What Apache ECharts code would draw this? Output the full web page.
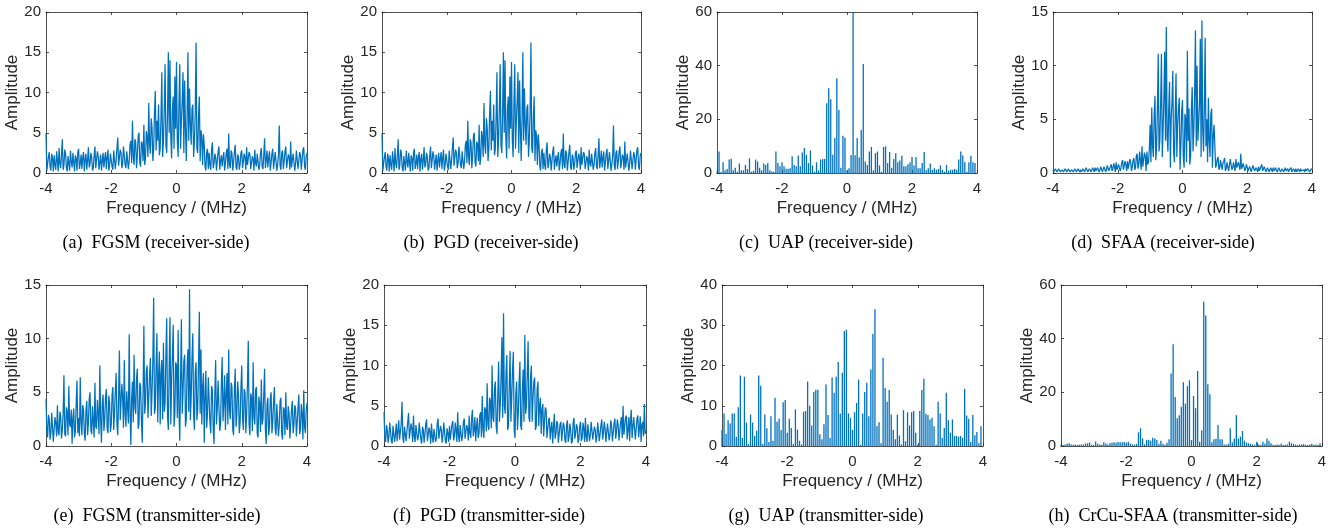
<!DOCTYPE html>
<html>
<head>
<meta charset="utf-8">
<script src="https://cdn.jsdelivr.net/npm/echarts@6/dist/echarts.min.js"></script>
<style>
  html, body { margin: 0; padding: 0; background: #ffffff; }
  #chart { width: 1338px; height: 529px; }
</style>
</head>
<body>
<div id="chart"></div>
<script>
// Frequency axis: -4 … 4 MHz
const xTicks = [-4, -2, 0, 2, 4];
const lineStart = -4, lineStep = 0.025;   // dense spectra, 321 samples (one row = 0.5 MHz)
const binStart = -4, binStep = 0.0625;    // line-spectrum (UAP / CrCu-SFAA) bins, 128 bins

// (a) FGSM, receiver-side
const fgsmRx = [
  4.9, 0.3, 0.5, 2.0, 2.6, 0.8, 0.3, 2.4, 1.8, 0.2, 2.2, 1.0, 0.4, 2.7, 1.5, 0.2, 3.1, 1.2, 0.6, 2.3,
  4.2, 0.4, 1.0, 2.9, 2.4, 0.6, 0.2, 2.1, 1.9, 0.3, 2.8, 1.4, 0.7, 2.5, 1.3, 0.2, 2.2, 1.8, 0.3, 2.6,
  3.0, 0.5, 1.2, 2.3, 0.5, 1.9, 2.6, 0.2, 1.7, 2.4, 0.4, 1.6, 3.2, 0.7, 1.1, 2.5, 2.0, 0.3, 0.6, 2.2,
  3.3, 0.6, 0.8, 2.7, 2.1, 0.4, 1.4, 2.3, 0.3, 1.5, 2.5, 0.7, 1.8, 2.6, 0.5, 1.9, 2.9, 0.3, 1.0, 2.4,
  2.3, 0.8, 0.4, 2.8, 3.0, 0.5, 1.6, 3.1, 4.4, 0.9, 0.7, 2.9, 2.5, 0.6, 1.2, 3.3, 3.4, 1.0, 0.6, 2.7,
  2.8, 0.5, 1.5, 3.5, 4.0, 1.2, 6.5, 2.0, 1.0, 4.2, 3.8, 0.6, 2.2, 4.6, 5.0, 1.3, 0.8, 3.9, 3.6, 1.5,
  6.0, 1.0, 1.8, 5.2, 4.5, 2.0, 8.7, 3.5, 2.4, 6.8, 5.6, 1.5, 3.0, 7.5, 10.2, 2.8, 6.5, 4.0, 8.5, 2.2,
  3.0, 7.0, 12.5, 2.0, 4.0, 8.0, 13.5, 3.5, 2.5, 7.5, 15.0, 5.0, 14.0, 4.5, 1.8, 8.0, 9.5, 3.0, 12.0, 5.5,
  13.8, 4.0, 2.0, 8.5, 13.5, 3.0, 6.5, 9.0, 12.5, 2.5, 11.5, 5.5, 1.5, 7.0, 15.0, 4.0, 10.5, 6.0, 3.5, 8.0,
  8.5, 2.0, 4.0, 7.5, 16.2, 3.0, 2.5, 7.0, 9.5, 1.5, 5.3, 4.5, 1.0, 4.8, 3.5, 0.8, 0.3, 2.6, 3.0, 0.5,
  2.5, 1.0, 0.4, 2.9, 3.8, 0.6, 1.2, 2.4, 2.0, 0.3, 0.5, 2.7, 3.3, 0.4, 1.5, 2.2, 0.8, 1.9, 2.6, 0.3,
  1.2, 2.5, 3.0, 0.5, 4.9, 1.0, 0.6, 2.8, 2.4, 0.3, 1.4, 2.6, 3.5, 0.7, 0.4, 2.3, 2.0, 0.4, 1.1, 2.5,
  2.8, 0.6, 0.5, 2.4, 1.9, 0.4, 3.2, 1.0, 0.9, 2.6, 2.3, 0.5, 0.3, 2.1, 1.7, 0.3, 2.9, 1.2, 0.8, 2.4,
  2.2, 0.4, 1.0, 2.5, 3.1, 0.8, 0.5, 2.2, 4.3, 0.6, 1.6, 2.8, 0.7, 1.9, 2.7, 0.3, 1.3, 2.4, 3.0, 0.5,
  0.6, 2.6, 2.4, 0.3, 1.1, 2.2, 5.9, 0.9, 0.4, 2.5, 2.8, 0.5, 1.5, 2.7, 3.3, 0.6, 0.8, 2.3, 2.0, 0.4,
  3.9, 0.7, 0.5, 2.4, 2.5, 0.3, 1.2, 2.8, 3.0, 0.5, 0.6, 2.6, 2.2, 0.4, 1.6, 2.9, 3.2, 0.8, 0.4, 2.1,
  2.5
];

// (b) PGD, receiver-side (same spectrum as FGSM at the receiver)
const pgdRx = [
  4.9, 0.3, 0.5, 2.0, 2.6, 0.8, 0.3, 2.4, 1.8, 0.2, 2.2, 1.0, 0.4, 2.7, 1.5, 0.2, 3.1, 1.2, 0.6, 2.3,
  4.2, 0.4, 1.0, 2.9, 2.4, 0.6, 0.2, 2.1, 1.9, 0.3, 2.8, 1.4, 0.7, 2.5, 1.3, 0.2, 2.2, 1.8, 0.3, 2.6,
  3.0, 0.5, 1.2, 2.3, 0.5, 1.9, 2.6, 0.2, 1.7, 2.4, 0.4, 1.6, 3.2, 0.7, 1.1, 2.5, 2.0, 0.3, 0.6, 2.2,
  3.3, 0.6, 0.8, 2.7, 2.1, 0.4, 1.4, 2.3, 0.3, 1.5, 2.5, 0.7, 1.8, 2.6, 0.5, 1.9, 2.9, 0.3, 1.0, 2.4,
  2.3, 0.8, 0.4, 2.8, 3.0, 0.5, 1.6, 3.1, 4.4, 0.9, 0.7, 2.9, 2.5, 0.6, 1.2, 3.3, 3.4, 1.0, 0.6, 2.7,
  2.8, 0.5, 1.5, 3.5, 4.0, 1.2, 6.5, 2.0, 1.0, 4.2, 3.8, 0.6, 2.2, 4.6, 5.0, 1.3, 0.8, 3.9, 3.6, 1.5,
  6.0, 1.0, 1.8, 5.2, 4.5, 2.0, 8.7, 3.5, 2.4, 6.8, 5.6, 1.5, 3.0, 7.5, 10.2, 2.8, 6.5, 4.0, 8.5, 2.2,
  3.0, 7.0, 12.5, 2.0, 4.0, 8.0, 13.5, 3.5, 2.5, 7.5, 15.0, 5.0, 14.0, 4.5, 1.8, 8.0, 9.5, 3.0, 12.0, 5.5,
  13.8, 4.0, 2.0, 8.5, 13.5, 3.0, 6.5, 9.0, 12.5, 2.5, 11.5, 5.5, 1.5, 7.0, 15.0, 4.0, 10.5, 6.0, 3.5, 8.0,
  8.5, 2.0, 4.0, 7.5, 16.2, 3.0, 2.5, 7.0, 9.5, 1.5, 5.3, 4.5, 1.0, 4.8, 3.5, 0.8, 0.3, 2.6, 3.0, 0.5,
  2.5, 1.0, 0.4, 2.9, 3.8, 0.6, 1.2, 2.4, 2.0, 0.3, 0.5, 2.7, 3.3, 0.4, 1.5, 2.2, 0.8, 1.9, 2.6, 0.3,
  1.2, 2.5, 3.0, 0.5, 4.9, 1.0, 0.6, 2.8, 2.4, 0.3, 1.4, 2.6, 3.5, 0.7, 0.4, 2.3, 2.0, 0.4, 1.1, 2.5,
  2.8, 0.6, 0.5, 2.4, 1.9, 0.4, 3.2, 1.0, 0.9, 2.6, 2.3, 0.5, 0.3, 2.1, 1.7, 0.3, 2.9, 1.2, 0.8, 2.4,
  2.2, 0.4, 1.0, 2.5, 3.1, 0.8, 0.5, 2.2, 4.3, 0.6, 1.6, 2.8, 0.7, 1.9, 2.7, 0.3, 1.3, 2.4, 3.0, 0.5,
  0.6, 2.6, 2.4, 0.3, 1.1, 2.2, 5.9, 0.9, 0.4, 2.5, 2.8, 0.5, 1.5, 2.7, 3.3, 0.6, 0.8, 2.3, 2.0, 0.4,
  3.9, 0.7, 0.5, 2.4, 2.5, 0.3, 1.2, 2.8, 3.0, 0.5, 0.6, 2.6, 2.2, 0.4, 1.6, 2.9, 3.2, 0.8, 0.4, 2.1,
  2.5
];

// (c) UAP, receiver-side
const uapRx = [
  0.5, 8.0, 0.4, 4.0, 1.0, 1.5, 5.0, 5.3, 1.0, 2.0,
  0.5, 3.5, 1.0, 1.0, 3.0, 1.5, 5.5, 0.5, 0.8, 5.0,
  4.3, 2.0, 1.0, 3.5, 3.0, 3.7, 1.0, 0.6, 0.5, 8.0,
  3.7, 2.5, 4.0, 2.5, 1.6, 1.6, 1.8, 6.2, 3.0, 2.5,
  6.5, 2.5, 7.6, 9.3, 6.8, 3.7, 8.4, 2.8, 0.5, 4.0,
  1.0, 5.0, 5.2, 5.2, 26.0, 31.6, 27.5, 6.8, 13.0, 35.3,
  23.5, 2.0, 13.9, 13.2, 1.0, 1.8, 6.7, 60.0, 6.6, 13.0,
  5.8, 16.0, 40.6, 4.3, 3.0, 8.0, 9.7, 1.0, 7.4, 8.0,
  2.8, 0.5, 9.7, 9.9, 3.7, 7.8, 2.0, 5.2, 7.4, 4.0,
  4.7, 6.4, 2.5, 2.5, 3.3, 4.0, 6.0, 2.8, 6.0, 1.8,
  1.8, 3.7, 7.8, 1.0, 1.8, 3.5, 1.2, 1.8, 1.2, 1.5,
  2.8, 1.2, 0.5, 3.0, 0.9, 1.2, 1.2, 1.5, 1.2, 5.0,
  8.0, 6.6, 4.0, 0.5, 4.0, 6.4, 4.0, 3.7
];

// (d) SFAA, receiver-side
const sfaaRx = [
  0.3, 0.1, 0.1, 0.4, 0.4, 0.1, 0.2, 0.4, 0.3, 0.1, 0.1, 0.3, 0.4, 0.1, 0.2, 0.4, 0.3, 0.1, 0.2, 0.4,
  0.4, 0.1, 0.1, 0.3, 0.3, 0.1, 0.2, 0.4, 0.4, 0.1, 0.1, 0.4, 0.3, 0.1, 0.3, 0.1, 0.2, 0.4, 0.4, 0.1,
  0.2, 0.5, 0.4, 0.1, 0.1, 0.4, 0.5, 0.1, 0.2, 0.5, 0.3, 0.1, 0.5, 0.2, 0.2, 0.5, 0.4, 0.1, 0.3, 0.6,
  0.6, 0.1, 0.2, 0.6, 0.5, 0.1, 0.3, 0.7, 0.7, 0.2, 0.2, 0.6, 0.8, 0.2, 0.4, 0.9, 0.6, 0.1, 1.0, 0.3,
  0.3, 0.8, 0.9, 0.2, 0.5, 1.0, 1.2, 0.3, 0.4, 1.1, 0.8, 0.2, 1.1, 0.4, 0.3, 1.3, 1.0, 0.2, 0.6, 1.2,
  1.4, 0.3, 0.5, 1.6, 1.8, 0.4, 0.8, 2.0, 1.2, 0.3, 2.5, 0.6, 0.7, 1.9, 1.6, 0.2, 2.0, 0.8, 1.0, 2.2,
  4.5, 1.0, 6.1, 2.5, 1.5, 5.5, 7.2, 1.2, 2.5, 6.0, 11.1, 2.0, 3.0, 6.5, 11.1, 1.5, 4.0, 7.0, 11.3, 3.0,
  13.6, 3.5, 2.0, 6.0, 8.5, 0.5, 5.0, 6.5, 9.5, 2.0, 1.0, 5.5, 9.3, 1.5, 4.5, 6.0, 7.0, 0.3, 2.5, 5.8,
  6.8, 1.5, 0.5, 5.5, 5.0, 1.0, 11.4, 3.0, 6.0, 0.8, 1.5, 6.0, 8.0, 2.0, 4.0, 7.5, 13.3, 2.5, 10.0, 3.0,
  3.0, 6.5, 12.5, 1.5, 14.2, 4.0, 2.0, 6.0, 12.6, 2.5, 5.0, 1.0, 7.0, 3.0, 1.5, 5.5, 6.0, 0.5, 3.5, 4.5,
  2.5, 0.5, 0.8, 1.3, 1.5, 0.3, 0.5, 1.2, 1.2, 0.3, 0.9, 1.1, 1.4, 0.2, 0.4, 1.0, 1.0, 0.2, 0.7, 1.3,
  1.2, 0.3, 0.5, 1.0, 0.9, 0.2, 1.3, 0.5, 0.4, 1.0, 1.1, 0.3, 1.8, 0.4, 0.6, 0.9, 0.9, 0.2, 0.4, 0.8,
  0.7, 0.2, 0.3, 0.6, 0.6, 0.1, 0.4, 0.7, 0.7, 0.2, 0.2, 0.5, 0.5, 0.1, 0.6, 0.2, 0.3, 0.6, 0.8, 0.2,
  0.3, 0.6, 0.5, 0.1, 0.2, 0.5, 0.6, 0.1, 0.3, 0.5, 0.4, 0.1, 0.5, 0.2, 0.2, 0.5, 0.4, 0.1, 0.3, 0.5,
  0.5, 0.1, 0.2, 0.4, 0.4, 0.1, 0.3, 0.5, 0.2, 0.1, 0.4, 0.1, 0.3, 0.4, 0.5, 0.1, 0.2, 0.4, 0.3, 0.1,
  0.4, 0.1, 0.2, 0.4, 0.3, 0.1, 0.4, 0.2, 0.1, 0.3, 0.3, 0.1, 0.4, 0.2, 0.2, 0.4, 0.3, 0.1, 0.2, 0.4,
  0.3
];

// (e) FGSM, transmitter-side
const fgsmTx = [
  4.4, 1.5, 0.8, 2.9, 2.5, 0.6, 1.2, 3.1, 3.0, 0.4, 0.5, 2.7, 2.1, 0.9, 3.8, 1.3, 1.0, 3.2, 2.8, 0.7,
  1.5, 3.0, 6.6, 1.1, 0.9, 3.6, 3.2, 1.0, 5.6, 2.0, 1.8, 3.4, 0.2, 2.6, 3.5, 0.8, 1.4, 3.9, 6.1, 1.2,
  2.6, 0.9, 6.4, 2.2, 1.0, 3.8, 3.4, 1.2, 0.5, 3.3, 4.2, 1.0, 2.2, 4.4, 5.0, 1.5, 1.1, 3.7, 3.6, 0.8,
  5.9, 1.8, 1.6, 4.3, 3.0, 1.1, 7.5, 2.5, 0.3, 3.9, 4.8, 1.4, 2.4, 4.6, 5.3, 1.6, 1.2, 4.7, 4.0, 1.3,
  2.0, 4.8, 5.5, 1.5, 3.0, 5.2, 6.8, 2.0, 1.0, 4.6, 8.9, 2.4, 2.5, 5.8, 4.5, 1.7, 8.0, 3.0, 1.8, 5.1,
  5.0, 2.1, 10.4, 3.2, 0.1, 4.4, 6.0, 2.2, 8.5, 3.6, 3.0, 6.3, 7.2, 1.6, 2.0, 5.9, 5.5, 2.4, 0.3, 4.9,
  11.2, 3.0, 4.0, 7.0, 7.5, 2.6, 2.5, 6.6, 8.2, 2.8, 5.0, 8.0, 13.8, 3.0, 3.5, 7.6, 10.5, 2.2, 6.5, 8.8,
  2.0, 6.8, 8.0, 2.5, 9.6, 3.2, 4.0, 8.4, 11.9, 2.7, 1.5, 7.2, 12.0, 2.0, 6.0, 8.6, 11.3, 1.8, 3.0, 7.8,
  7.5, 2.6, 10.8, 3.4, 0.5, 6.2, 11.8, 3.0, 5.0, 7.9, 8.5, 1.8, 2.5, 7.4, 9.0, 3.2, 14.6, 2.4, 4.5, 8.2,
  10.5, 2.8, 1.5, 6.9, 7.8, 2.4, 3.5, 7.7, 12.5, 3.0, 9.0, 2.0, 5.5, 6.8, 0.3, 4.6, 7.0, 1.7, 3.0, 6.4,
  6.5, 2.2, 1.2, 5.6, 5.2, 1.6, 0.2, 4.8, 8.0, 2.0, 3.5, 6.1, 6.0, 1.4, 2.0, 5.7, 8.3, 2.3, 4.0, 6.6,
  1.5, 4.9, 6.8, 2.0, 9.0, 3.3, 2.5, 5.9, 5.5, 1.5, 1.0, 5.2, 7.2, 1.8, 3.0, 6.0, 4.8, 1.2, 2.2, 5.4,
  7.5, 2.5, 1.5, 5.3, 5.0, 1.2, 3.0, 5.8, 9.8, 2.0, 1.0, 4.9, 4.5, 1.4, 7.8, 2.6, 2.0, 5.2, 5.5, 1.1,
  0.8, 4.6, 4.0, 1.3, 6.2, 2.0, 2.5, 4.8, 7.2, 1.5, 0.2, 3.9, 4.5, 1.0, 1.8, 4.4, 5.0, 1.2, 2.2, 4.1,
  5.5, 1.6, 1.0, 3.9, 3.8, 0.9, 2.0, 4.2, 4.5, 1.1, 0.6, 3.6, 3.4, 1.0, 5.0, 1.8, 1.5, 3.7, 3.0, 0.7,
  0.8, 3.4, 4.2, 1.2, 2.0, 3.8, 3.5, 0.9, 1.0, 3.6, 4.8, 1.1, 1.6, 3.9, 3.0, 0.6, 5.2, 1.8, 1.2, 3.3,
  4.0
];

// (f) PGD, transmitter-side
const pgdTx = [
  4.2, 1.0, 0.5, 2.6, 2.0, 0.4, 1.2, 2.9, 3.0, 0.6, 0.3, 2.5, 2.4, 0.5, 1.5, 2.8, 0.6, 1.9, 3.2, 0.8,
  1.0, 2.7, 5.5, 1.0, 0.4, 2.4, 2.6, 0.6, 1.8, 3.0, 4.1, 0.9, 0.8, 2.8, 2.2, 0.5, 3.8, 1.2, 0.5, 2.6,
  2.5, 0.7, 1.2, 2.9, 3.0, 0.8, 0.3, 2.4, 2.0, 0.4, 1.5, 2.7, 3.3, 0.6, 0.6, 2.3, 1.8, 0.3, 2.8, 1.1,
  0.4, 2.1, 2.3, 0.5, 1.0, 2.8, 3.4, 0.9, 0.8, 2.5, 2.0, 0.4, 1.4, 2.9, 2.7, 0.6, 0.3, 2.2, 1.6, 0.5,
  2.5, 0.8, 0.6, 2.7, 3.1, 0.7, 1.2, 2.9, 2.0, 0.5, 4.2, 1.3, 0.5, 2.6, 2.6, 0.6, 1.4, 3.0, 3.4, 0.9,
  0.8, 2.6, 2.2, 0.7, 3.8, 1.5, 1.0, 3.4, 4.5, 1.2, 2.0, 3.6, 0.6, 2.4, 3.5, 1.0, 1.5, 3.8, 4.2, 1.1,
  6.2, 2.0, 1.0, 4.8, 4.5, 1.8, 7.8, 2.6, 2.0, 6.0, 5.5, 2.2, 10.0, 3.5, 3.0, 7.2, 8.0, 2.5, 1.5, 6.5,
  10.5, 3.0, 5.0, 8.5, 13.5, 3.5, 16.5, 5.0, 4.0, 9.0, 11.3, 2.0, 2.5, 7.5, 11.8, 3.0, 6.0, 9.5, 11.7, 2.0,
  1.0, 6.5, 8.0, 2.0, 4.0, 7.8, 10.5, 2.5, 2.0, 7.0, 9.5, 3.0, 13.8, 4.0, 5.0, 9.0, 13.0, 3.5, 3.0, 8.5,
  10.0, 3.0, 6.0, 8.0, 8.5, 2.0, 2.5, 7.0, 8.0, 2.5, 5.0, 6.0, 1.5, 4.5, 5.2, 1.2, 3.0, 4.8, 4.5, 1.0,
  1.0, 3.2, 3.5, 0.8, 2.2, 3.0, 0.3, 2.4, 4.0, 0.9, 1.5, 3.1, 2.8, 0.4, 0.5, 2.7, 3.0, 0.6, 1.8, 2.9,
  2.5, 0.7, 0.4, 2.6, 3.2, 0.5, 1.2, 2.8, 2.0, 0.3, 0.6, 2.9, 3.5, 0.9, 1.5, 2.7, 2.4, 0.4, 0.8, 2.5,
  3.0, 0.6, 1.0, 2.9, 2.2, 0.5, 3.5, 1.1, 0.5, 2.7, 2.6, 0.6, 1.4, 3.0, 3.1, 0.8, 0.7, 2.4, 2.0, 0.4,
  1.2, 2.9, 2.8, 0.6, 0.4, 2.6, 3.3, 0.8, 1.6, 3.0, 2.2, 0.5, 0.6, 2.8, 3.0, 0.7, 1.4, 3.2, 2.5, 0.6,
  0.8, 2.8, 3.4, 0.9, 1.8, 3.3, 2.6, 0.7, 0.5, 3.0, 3.6, 1.0, 5.0, 1.4, 1.2, 3.5, 3.8, 0.8, 2.0, 3.6,
  0.6, 3.2, 4.5, 1.0, 2.4, 3.6, 3.5, 0.8, 1.0, 3.4, 3.8, 1.1, 2.2, 3.7, 0.5, 2.6, 3.0, 1.2, 5.2, 1.5,
  2.0
];

// (g) UAP, transmitter-side
const uapTx = [
  4.0, 8.1, 3.0, 6.4, 5.6, 8.1, 8.1, 2.3, 9.6, 17.5,
  2.0, 17.2, 5.8, 0.5, 7.8, 5.8, 2.5, 3.8, 17.5, 15.0,
  0.5, 7.8, 4.4, 1.0, 7.4, 1.3, 12.0, 6.0, 6.8, 4.0,
  10.9, 11.4, 3.3, 6.8, 4.5, 0.5, 9.1, 4.1, 1.3, 0.4,
  8.5, 8.7, 16.0, 10.0, 5.1, 13.4, 14.0, 14.0, 2.9, 1.7,
  5.4, 15.3, 7.7, 2.0, 17.0, 13.2, 17.2, 20.9, 8.1, 18.2,
  28.6, 28.9, 8.1, 7.0, 4.0, 8.4, 10.7, 16.5, 0.3, 8.1,
  13.4, 15.7, 7.4, 19.0, 27.8, 34.0, 4.9, 5.9, 0.7, 21.9,
  14.4, 11.0, 13.9, 7.8, 4.0, 1.7, 7.8, 2.6, 0.4, 8.9,
  1.2, 8.4, 5.1, 8.4, 8.7, 3.3, 0.3, 8.7, 13.9, 16.7,
  8.0, 7.7, 6.6, 7.0, 4.9, 0.3, 11.0, 8.1, 2.0, 4.5,
  13.2, 6.4, 3.3, 6.6, 2.5, 2.5, 2.3, 2.5, 2.0, 14.2,
  7.6, 6.8, 1.0, 7.7, 2.7, 3.5, 0.7, 4.9
];

// (h) CrCu-SFAA, transmitter-side
const crcuSfaaTx = [
  0.5, 0.4, 0.6, 0.8, 1.0, 0.6, 0.5, 0.6, 0.4, 0.5,
  0.6, 0.5, 0.9, 1.0, 1.3, 0.5, 0.4, 1.7, 0.8, 0.6,
  0.5, 1.4, 0.9, 0.6, 1.0, 1.2, 1.4, 1.2, 1.5, 1.4,
  1.4, 1.5, 1.2, 1.6, 0.9, 0.6, 0.5, 0.8, 5.1, 6.6,
  2.8, 0.6, 2.2, 2.3, 2.0, 3.1, 2.8, 2.2, 0.8, 2.0,
  0.8, 0.5, 1.2, 2.5, 27.0, 37.9, 18.3, 10.3, 11.5, 14.6,
  23.8, 15.8, 22.3, 24.5, 2.2, 18.6, 14.1, 28.0, 1.6, 5.9,
  53.8, 48.6, 23.0, 19.3, 1.4, 2.5, 2.7, 7.8, 2.5, 2.5,
  0.6, 0.5, 0.8, 6.6, 1.4, 2.8, 11.5, 2.8, 3.5, 5.6,
  2.0, 1.2, 1.0, 0.8, 0.6, 0.5, 1.6, 0.6, 0.5, 1.6,
  0.8, 2.8, 2.0, 1.0, 0.5, 0.4, 0.6, 0.5, 0.9, 0.4,
  0.5, 0.6, 1.6, 1.0, 0.8, 0.5, 0.4, 0.5, 0.6, 0.7,
  0.5, 0.4, 0.6, 0.8, 0.5, 0.6, 0.4, 1.0
];

const captions = [
  ['(a)', 'FGSM', '(receiver-side)'],
  ['(b)', 'PGD', '(receiver-side)'],
  ['(c)', 'UAP', '(receiver-side)'],
  ['(d)', 'SFAA', '(receiver-side)'],
  ['(e)', 'FGSM', '(transmitter-side)'],
  ['(f)', 'PGD', '(transmitter-side)'],
  ['(g)', 'UAP', '(transmitter-side)'],
  ['(h)', 'CrCu-SFAA', '(transmitter-side)']
];

const yMaxes = [20, 20, 60, 15, 15, 20, 40, 60];
const yIntervals = [5, 5, 20, 5, 5, 5, 10, 20];

const panels = [
  { values: fgsmRx, kind: 'line' },
  { values: pgdRx, kind: 'line' },
  { values: uapRx, kind: 'bin' },
  { values: sfaaRx, kind: 'line' },
  { values: fgsmTx, kind: 'line' },
  { values: pgdTx, kind: 'line' },
  { values: uapTx, kind: 'bin' },
  { values: crcuSfaaTx, kind: 'bin' }
];

// plot-box placement (px)
const boxes = [
  { left: 46, top: 12, width: 261, height: 161 },
  { left: 382, top: 12, width: 259, height: 161 },
  { left: 717, top: 12, width: 260, height: 161 },
  { left: 1053, top: 12, width: 259, height: 161 },
  { left: 46, top: 285, width: 261, height: 161 },
  { left: 384, top: 285, width: 262, height: 161 },
  { left: 722, top: 285, width: 261, height: 161 },
  { left: 1061, top: 285, width: 261, height: 161 }
];
const captionPos = [
  [156, 243], [491, 243], [826, 243], [1163, 243],
  [157, 516], [489, 516], [826, 516], [1173, 516]
];

const INK = '#262626';
const BLUE = '#0072BD';
const SANS = '"Liberation Sans", Arial, Helvetica, sans-serif';
const SERIF = '"Liberation Serif", "Times New Roman", serif';

const axisLine = { show: true, onZero: false, lineStyle: { color: INK, width: 0.8 } };
const axisTick = { show: true, inside: true, length: 3, lineStyle: { color: INK, width: 0.8 } };

const grid = [], xAxis = [], yAxis = [], series = [], graphic = [];

panels.forEach((p, k) => {
  grid.push(Object.assign({ containLabel: false }, boxes[k]));

  const xCommon = { gridIndex: k, type: 'value', min: xTicks[0], max: xTicks[xTicks.length - 1], interval: 2,
    axisLine, axisTick, splitLine: { show: false } };
  xAxis.push(Object.assign({}, xCommon, {
    position: 'bottom',
    axisLabel: { show: true, fontSize: 15, color: INK, fontFamily: SANS, margin: 8, showMinLabel: true, showMaxLabel: true },
    name: 'Frequency / (MHz)', nameLocation: 'middle', nameGap: 27,
    nameTextStyle: { fontSize: 17, color: INK, fontFamily: SANS }
  }));
  xAxis.push(Object.assign({}, xCommon, { position: 'top', axisLabel: { show: false } }));

  const yCommon = { gridIndex: k, type: 'value', min: 0, max: yMaxes[k], interval: yIntervals[k],
    axisLine, axisTick, splitLine: { show: false } };
  yAxis.push(Object.assign({}, yCommon, {
    position: 'left',
    axisLabel: { show: true, fontSize: 15, color: INK, fontFamily: SANS, margin: 5, showMinLabel: true, showMaxLabel: true },
    name: 'Amplitude', nameLocation: 'middle', nameGap: 24, nameRotate: 90,
    nameTextStyle: { fontSize: 17, color: INK, fontFamily: SANS }
  }));
  yAxis.push(Object.assign({}, yCommon, { position: 'right', axisLabel: { show: false } }));

  if (p.kind === 'line') {
    series.push({
      type: 'line', xAxisIndex: 2 * k, yAxisIndex: 2 * k,
      data: p.values.map((v, i) => [lineStart + i * lineStep, v]),
      showSymbol: false, symbol: 'none', sampling: null, silent: true,
      lineStyle: { color: BLUE, width: 1.25 }, animation: false
    });
  } else {
    series.push({
      type: 'bar', xAxisIndex: 2 * k, yAxisIndex: 2 * k,
      data: p.values.map((v, i) => [binStart + i * binStep, v]),
      barWidth: 1.3, clip: true, silent: true,
      itemStyle: { color: BLUE }, animation: false
    });
  }

  const c = captions[k];
  graphic.push({
    type: 'text', x: captionPos[k][0], y: captionPos[k][1], silent: true,
    style: {
      text: c[0] + '  ' + c[1] + ' ' + c[2],
      font: '18px ' + SERIF, fill: '#000', align: 'center', verticalAlign: 'middle'
    }
  });
});

const chart = echarts.init(document.getElementById('chart'), null, { renderer: 'canvas' });
chart.setOption({
  backgroundColor: '#ffffff',
  animation: false,
  grid, xAxis, yAxis, series, graphic
});
</script>
</body>
</html>
